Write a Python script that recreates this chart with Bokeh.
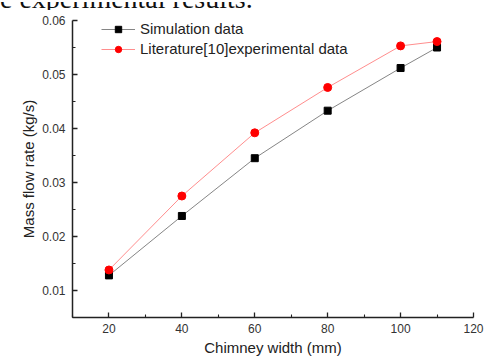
from bokeh.plotting import figure
from bokeh.embed import file_html
from bokeh.resources import INLINE
from bokeh.layouts import column
from bokeh.models import FixedTicker, PrintfTickFormatter, Range1d, Legend, LegendItem, Div

width_mm = [20, 40, 60, 80, 100, 110]
simulation = [0.0128, 0.0238, 0.0345, 0.0433, 0.0512, 0.0550]
literature = [0.0138, 0.0275, 0.0392, 0.0476, 0.0553, 0.0561]
x_ticks = [20, 40, 60, 80, 100, 120]
x_minor = [10, 30, 50, 70, 90, 110]
y_ticks = [0.01, 0.02, 0.03, 0.04, 0.05, 0.06]
y_minor = [0.005, 0.015, 0.025, 0.035, 0.045, 0.055]
caption = "e experimental results."

FONT = "Liberation Sans"

# cropped line of the source page above the chart (only its lower part shows)
cap = Div(text=('<div style="height:10px;overflow:hidden;width:485px">'
                '<div style="font-family:\'Liberation Serif\';font-size:28px;line-height:28px;'
                'margin-top:-17px;white-space:nowrap;color:#111111">' + caption + '</div></div>'),
          width=485, height=10, margin=0, styles={"overflow": "hidden"})

p = figure(width=485, height=349, output_backend="svg", toolbar_location=None,
           x_range=Range1d(10, 120), y_range=Range1d(0.005, 0.06),
           min_border_left=72, min_border_right=12, min_border_top=10, min_border_bottom=42)
p.outline_line_alpha = 0
p.xgrid.visible = False
p.ygrid.visible = False
p.background_fill_color = "white"
p.border_fill_color = "white"

l1 = p.line(width_mm, simulation, line_color="#666666", line_width=0.8)
s1 = p.scatter(width_mm, simulation, marker="square", size=7, fill_color="black", line_color="black")
l2 = p.line(width_mm, literature, line_color="#ff7070", line_width=0.8)
s2 = p.scatter(width_mm, literature, marker="circle", size=8, fill_color="#ff0000", line_color="#ff0000")

for ax in (p.xaxis[0], p.yaxis[0]):
    ax.axis_line_color = "#222222"
    ax.axis_line_width = 1.5
    ax.major_tick_line_color = "#222222"
    ax.minor_tick_line_color = "#222222"
    ax.major_tick_line_width = 1.3
    ax.minor_tick_line_width = 1.1
    ax.major_tick_in = 5
    ax.major_tick_out = 0
    ax.minor_tick_in = 3
    ax.minor_tick_out = 0
    ax.major_label_text_font = FONT
    ax.major_label_text_font_size = "12px"
    ax.major_label_text_color = "#333333"
    ax.axis_label_text_font = FONT
    ax.axis_label_text_font_size = "15px"
    ax.axis_label_text_font_style = "normal"
    ax.axis_label_text_color = "#222222"

p.xaxis[0].ticker = FixedTicker(ticks=x_ticks, minor_ticks=x_minor)
p.yaxis[0].ticker = FixedTicker(ticks=y_ticks, minor_ticks=y_minor)
p.yaxis[0].formatter = PrintfTickFormatter(format="%.2f")
p.xaxis[0].axis_label = "Chimney width (mm)"
p.yaxis[0].axis_label = "Mass flow rate (kg/s)"
p.xaxis[0].major_label_standoff = 6
p.xaxis[0].axis_label_standoff = 3
p.yaxis[0].major_label_standoff = 7
p.yaxis[0].axis_label_standoff = 2

legend = Legend(items=[LegendItem(label="Simulation data", renderers=[l1, s1]),
                       LegendItem(label="Literature[10]experimental data", renderers=[l2, s2])],
                location=(29, 260), margin=0, padding=0, spacing=3,
                glyph_width=34, glyph_height=16, label_height=16, label_standoff=5,
                label_text_font=FONT, label_text_font_size="15px", label_text_color="#222222",
                background_fill_alpha=0, border_line_alpha=0)
p.add_layout(legend)

layout = column(cap, p, spacing=0)
open("out.html", "w").write(file_html(layout, INLINE))
